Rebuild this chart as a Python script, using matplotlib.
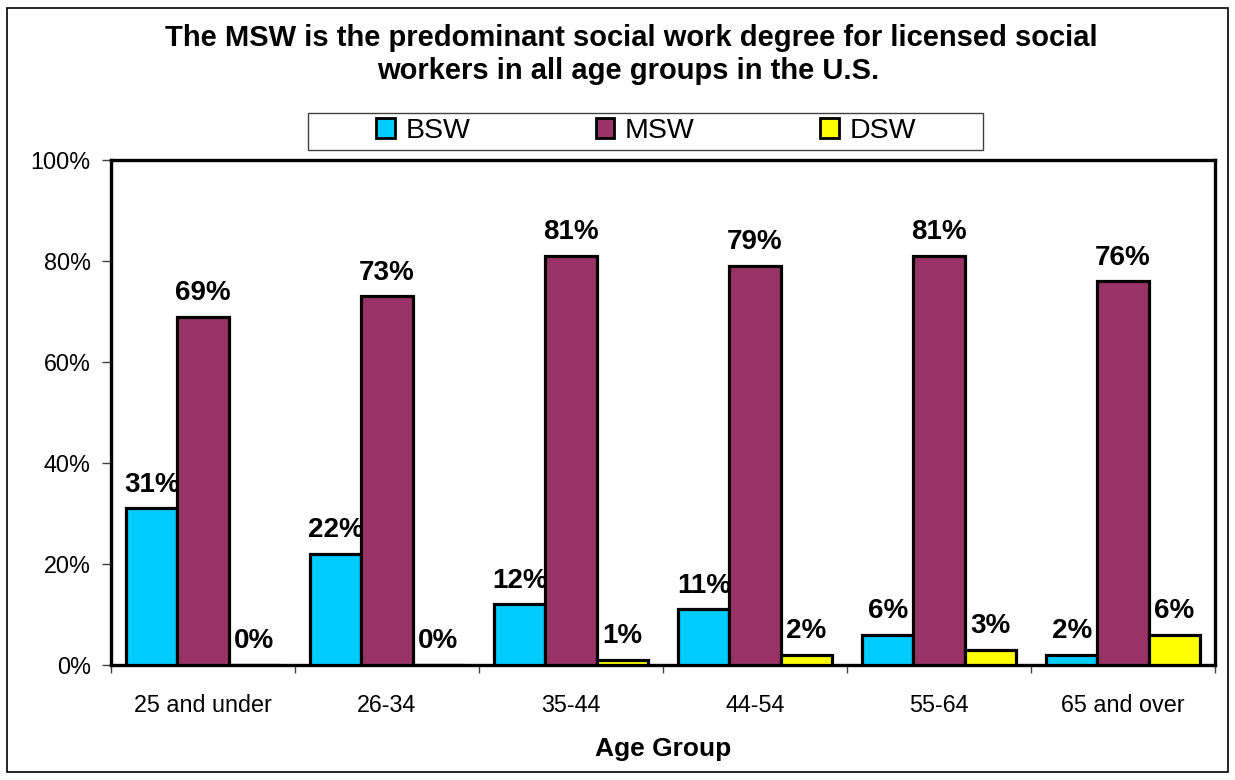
import matplotlib.pyplot as plt
import numpy as np
from matplotlib.patches import Rectangle

plt.rcParams['font.family'] = ['Liberation Sans', 'DejaVu Sans']

age_groups = ['25 and under', '26-34', '35-44', '44-54', '55-64', '65 and over']
bsw = [31, 22, 12, 11, 6, 2]
msw = [69, 73, 81, 79, 81, 76]
dsw = [0, 0, 1, 2, 3, 6]
series_names = ['BSW', 'MSW', 'DSW']
colors = ['#00CCFF', '#993366', '#FFFF00']
yticks = [0, 20, 40, 60, 80, 100]

W, H = 1235, 780
fig = plt.figure(figsize=(W / 100, H / 100), dpi=100)
ax = fig.add_axes([111 / W, 1 - 665 / H, 1104 / W, 505 / H])

x = np.arange(len(age_groups))
w = 1 / 3.6
for i, (vals, name, c) in enumerate(zip([bsw, msw, dsw], series_names, colors)):
    pos = x + (i - 1) * w
    bars = ax.bar(pos, vals, width=w, color=c, edgecolor='black', linewidth=2.3,
                  label=name, zorder=3)
    for b, v in zip(bars, vals):
        ax.text(b.get_x() + b.get_width() / 2, v + 3.3, f'{v}%', ha='center',
                va='baseline', fontsize=20, fontweight='bold', zorder=5)

ax.set_xlim(-0.5, len(age_groups) - 0.5)
ax.set_ylim(0, 100)
ax.set_yticks(yticks)
ax.set_yticklabels([f'{t}%' for t in yticks], fontsize=16.8)
ax.set_xticks(x)
ax.set_xticklabels(age_groups, fontsize=16.8)
ax.tick_params(axis='x', length=0, pad=21)
ax.set_xticks(np.arange(len(age_groups) + 1) - 0.5, minor=True)
ax.tick_params(axis='x', which='minor', length=6, width=1, direction='out', color='#404040')
ax.tick_params(axis='y', length=6.5, width=1, direction='out', pad=8, color='#404040')
for s in ax.spines.values():
    s.set_linewidth(2.4)
ax.set_xlabel('Age Group', fontsize=19, fontweight='bold')
ax.xaxis.set_label_coords(0.5, -0.142)

fig.text(0.511, 1 - 38 / H, 'The MSW is the predominant social work degree for licensed social',
         ha='center', va='center', fontsize=21, fontweight='bold')
fig.text(0.509, 1 - 71 / H, 'workers in all age groups in the U.S.',
         ha='center', va='center', fontsize=21, fontweight='bold')

# legend box drawn separately, entries spread like the original
fig.patches.append(Rectangle((308 / W, 1 - 150 / H), 675 / W, 37 / H,
                             transform=fig.transFigure, facecolor='white',
                             edgecolor='#404040', linewidth=1.0, zorder=1))
leg = fig.legend(loc='center', ncol=3, bbox_to_anchor=(646 / W, 1 - 131 / H),
                 fontsize=20.5, frameon=False, handlelength=0.66, handleheight=0.66,
                 handletextpad=0.38, columnspacing=4.4, borderpad=0)
for h in leg.legend_handles:
    h.set_linewidth(2)

fig.patches.append(Rectangle((7 / W, 8 / H), 1221 / W, 764 / H,
                             transform=fig.transFigure, fill=False,
                             edgecolor='black', linewidth=1.2))

fig.savefig('out.png', dpi=100)
